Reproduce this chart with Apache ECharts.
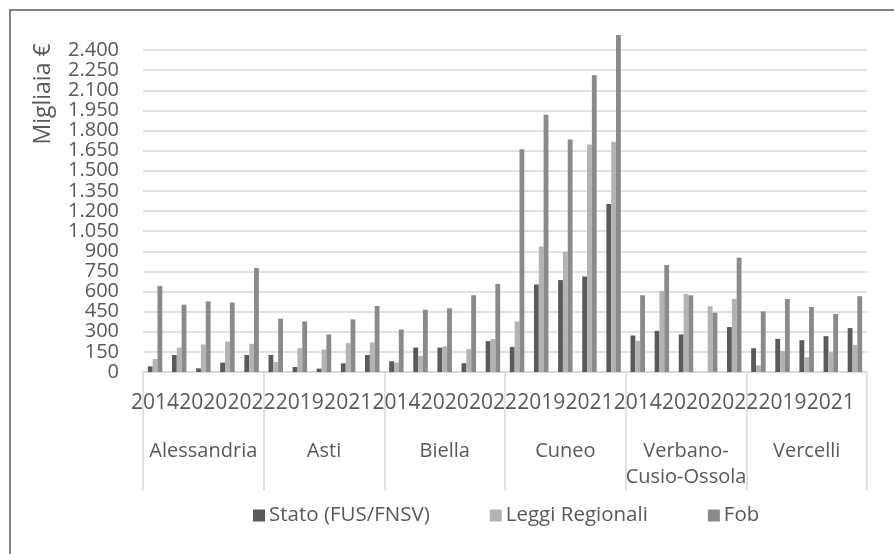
<!DOCTYPE html>
<html>
<head>
<meta charset="utf-8">
<script src="https://cdn.jsdelivr.net/npm/echarts@6/dist/echarts.min.js"></script>
<style>
html,body{margin:0;padding:0;background:#fff;}
#chart{width:894px;height:554px;}
</style>
</head>
<body>
<div id="chart"></div>
<script>
const provinces = ['Alessandria', 'Asti', 'Biella', 'Cuneo', 'Verbano-\nCusio-Ossola', 'Vercelli'];
const years = ['2014', '2019', '2020', '2021', '2022'];
const yTicks = [0, 150, 300, 450, 600, 750, 900, 1050, 1200, 1350, 1500, 1650, 1800, 1950, 2100, 2250, 2400];

const stato = [42, 127, 27, 70, 127,
               127, 37, 25, 65, 127,
               80, 182, 182, 65, 230,
               187, 652, 685, 712, 1252,
               272, 307, 280, 0, 335,
               177, 247, 237, 267, 327];
const leggi = [97, 182, 205, 227, 210,
               75, 177, 167, 215, 220,
               70, 120, 192, 170, 245,
               377, 935, 895, 1695, 1717,
               232, 605, 582, 490, 545,
               50, 157, 110, 147, 202];
const fob = [642, 502, 527, 517, 775,
             397, 377, 280, 392, 492,
             317, 465, 475, 572, 657,
             1660, 1917, 1732, 2212, 2512,
             572, 797, 572, 442, 852,
             452, 545, 485, 432, 565];

const seriesNames = ['Stato (FUS/FNSV)', 'Leggi Regionali', 'Fob'];
const colors = ['#5a5a5a', '#b3b3b3', '#8a8a8a'];

const categories = [];
provinces.forEach(() => years.forEach(y => categories.push(y)));

const FONT = '"Open Sans", sans-serif';
const TXT = '#595959';
const GRID = '#d9d9d9';

function fmt(v) {
  return String(v).replace(/\B(?=(\d{3})+(?!\d))/g, '.');
}

const chart = echarts.init(document.getElementById('chart'), null, {renderer: 'canvas'});
chart.setOption({
  animation: false,
  backgroundColor: '#fff',
  textStyle: {fontFamily: FONT},
  grid: {left: 143, right: 27, top: 50, bottom: 182, containLabel: false},
  legend: {
    data: seriesNames,
    left: 248,
    top: 500,
    icon: 'rect',
    itemWidth: 12,
    itemHeight: 12,
    itemGap: 60,
    textStyle: {fontSize: 20.5, color: TXT, fontFamily: FONT, padding: [0, 0, 0, -1]}
  },
  graphic: [
    {type: 'rect', shape: {x: 10, y: 10, width: 1000, height: 1000}, style: {fill: 'none', stroke: '#595959', lineWidth: 1.5}, z: -1},
    {type: 'text', x: 55, y: 94, rotation: Math.PI / 2, style: {text: 'Migliaia €', fontSize: 23, fontFamily: FONT, fill: TXT, align: 'center', verticalAlign: 'bottom'}}
  ],
  xAxis: [
    {
      type: 'category',
      data: categories,
      position: 'bottom',
      axisLine: {show: true, lineStyle: {color: GRID, width: 1.5}},
      axisTick: {show: false},
      axisLabel: {interval: 1, fontSize: 21, color: TXT, fontFamily: FONT, margin: 19, lineHeight: 24, hideOverlap: false}
    },
    {
      type: 'category',
      data: provinces,
      position: 'bottom',
      axisLine: {show: false},
      axisTick: {show: true, length: 118, lineStyle: {color: GRID, width: 1.5}},
      axisLabel: {interval: 0, fontSize: 20, color: TXT, fontFamily: FONT, margin: 66, lineHeight: 26, align: 'center'}
    }
  ],
  yAxis: {
    type: 'value',
    min: yTicks[0],
    max: yTicks[yTicks.length - 1],
    interval: 150,
    axisLine: {show: false},
    axisTick: {show: false},
    splitLine: {lineStyle: {color: GRID, width: 1.5}},
    axisLabel: {fontSize: 20, lineHeight: 20, color: TXT, fontFamily: FONT, margin: 24, formatter: fmt,
                showMinLabel: true, showMaxLabel: true, hideOverlap: false}
  },
  series: [
    {name: seriesNames[0], type: 'bar', data: stato, itemStyle: {color: colors[0]}, barGap: '0%', barCategoryGap: '40%', clip: false},
    {name: seriesNames[1], type: 'bar', data: leggi, itemStyle: {color: colors[1]}, barGap: '0%', barCategoryGap: '40%', clip: false},
    {name: seriesNames[2], type: 'bar', data: fob, itemStyle: {color: colors[2]}, barGap: '0%', barCategoryGap: '40%', clip: false}
  ]
});
</script>
</body>
</html>
